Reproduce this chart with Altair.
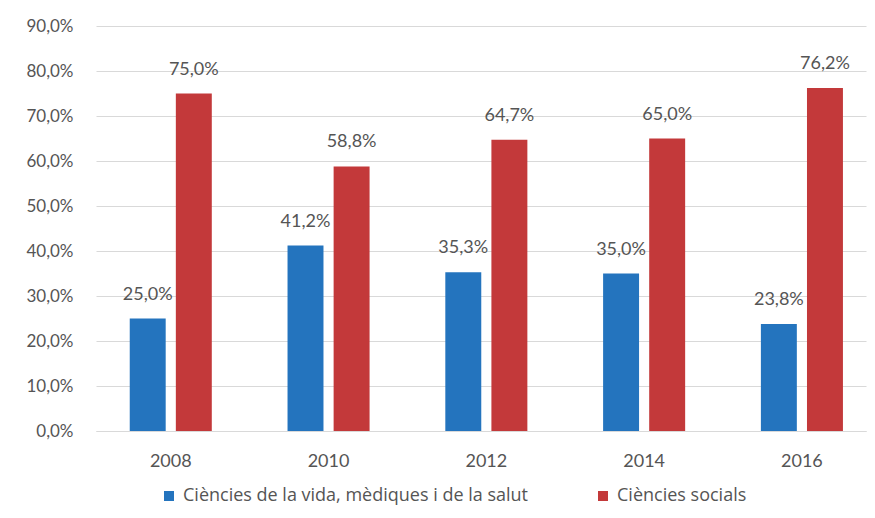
import altair as alt
import pandas as pd

years = ["2008", "2010", "2012", "2014", "2016"]
series = ["Ciències de la vida, mèdiques i de la salut", "Ciències socials"]
vida = [25.0, 41.2, 35.3, 35.0, 23.8]
socials = [75.0, 58.8, 64.7, 65.0, 76.2]
colors = ["#2474BE", "#C3393A"]
y_ticks = [0, 0.1, 0.2, 0.3, 0.4, 0.5, 0.6, 0.7, 0.8, 0.9]

rows = []
for i, yr in enumerate(years):
    rows.append({"year": yr, "serie": series[0], "value": vida[i] / 100})
    rows.append({"year": yr, "serie": series[1], "value": socials[i] / 100})
df = pd.DataFrame(rows)

FONT = "Lato"
GREY = "#555555"

base = alt.Chart(df).transform_calculate(
    label="replace(format(datum.value, '.1%'), '.', ',')"
).encode(
    x=alt.X(
        "year:N",
        sort=years,
        scale=alt.Scale(paddingInner=0.48, paddingOuter=0.18, align=0.594),
        axis=alt.Axis(
            title=None, labelAngle=0, ticks=False, domainColor="#d9d9d9",
            labelFont=FONT, labelFontSize=18, labelColor=GREY, labelPadding=21,
        ),
    ),
    xOffset=alt.XOffset(
        "serie:N", sort=series, scale=alt.Scale(paddingInner=0.22, paddingOuter=0)
    ),
    y=alt.Y(
        "value:Q",
        scale=alt.Scale(domain=[0, 0.9], nice=False),
        axis=alt.Axis(
            title=None, values=y_ticks, domain=False, ticks=False,
            gridColor="#d9d9d9", labelFont=FONT, labelFontSize=17,
            labelColor=GREY, labelPadding=23,
            labelExpr="replace(format(datum.value, '.1%'), '.', ',')",
        ),
    ),
)

bars = base.mark_bar().encode(
    color=alt.Color(
        "serie:N",
        sort=series,
        scale=alt.Scale(domain=series, range=colors),
        legend=alt.Legend(
            title=None, orient="none", direction="horizontal",
            legendX=64, legendY=461, symbolType="square", symbolSize=100,
            symbolStrokeWidth=0, labelFont="Open Sans", labelFontSize=18,
            labelColor=GREY, columnPadding=65, labelOffset=5, labelLimit=0,
        ),
    )
)

text = base.mark_text(
    baseline="bottom", dy=-15, font=FONT, fontSize=18, color=GREY
).encode(text="label:N")

chart = (
    (bars + text)
    .properties(
        width=770, height=405, autosize="none",
        padding={"left": 88, "top": 18, "right": 1, "bottom": 79},
    )
    .configure_view(stroke=None)
)

chart.save("out.html", embed_options={"renderer": "svg", "actions": False})
